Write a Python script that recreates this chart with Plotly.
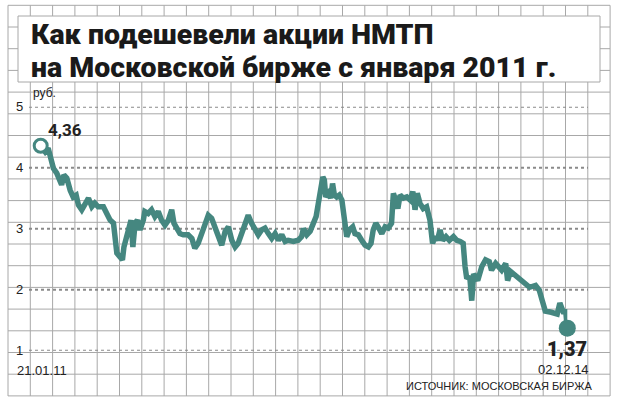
import pandas as pd
import plotly.graph_objects as go

# -- price of NMTP shares, days counted from 21.01.11
days = [0, 12, 20, 25, 34, 43, 50, 56, 62, 70, 79, 87, 95, 101, 110, 119, 128, 137, 145, 154,
        168, 177, 186, 195, 199, 204, 212, 219, 223, 230, 235, 242, 247, 253, 259, 266, 275, 279,
        288, 297, 306, 315, 324, 333, 342, 351, 357, 364, 373, 382, 395, 405, 413, 422, 431, 440,
        449, 458, 467, 476, 485, 494, 503, 512, 521, 529, 539, 547, 556, 565, 574, 583, 592, 601,
        610, 619, 628, 637, 646, 655, 663, 677, 690, 699, 704, 713, 722, 730, 738, 744, 750, 756,
        760, 764, 771, 777, 782, 787, 793, 800, 807, 813, 820, 827, 836, 842, 851, 860, 869, 878,
        885, 891, 898, 906, 914, 923, 931, 940, 945, 951, 957, 963, 972, 981, 990, 997, 1003, 1009,
        1016, 1025, 1034, 1043, 1050, 1057, 1063, 1070, 1077, 1086, 1095, 1106, 1115, 1124, 1132,
        1137, 1141, 1150, 1155, 1160, 1171, 1182, 1192, 1202, 1208, 1219, 1235, 1246, 1251, 1259,
        1267, 1278, 1294, 1310, 1326, 1336, 1344, 1352, 1368, 1384, 1391, 1400, 1407, 1411]
price = [4.36, 4.26, 4.32, 4.18, 3.99, 3.91, 3.80, 3.72, 3.88, 3.83, 3.63, 3.52, 3.55, 3.39, 3.31,
         3.42, 3.50, 3.36, 3.42, 3.36, 3.36, 3.25, 3.14, 3.09, 2.81, 2.60, 2.54, 2.49, 2.70, 2.87,
         3.03, 3.14, 2.70, 3.09, 3.14, 2.98, 3.14, 3.28, 3.25, 3.31, 3.20, 3.28, 3.14, 3.06, 3.14,
         3.31, 3.09, 3.01, 2.92, 2.90, 2.90, 2.84, 2.68, 2.76, 2.90, 3.09, 3.22, 3.17, 3.03, 2.92,
         2.73, 2.95, 3.03, 2.81, 2.70, 2.76, 2.92, 3.03, 3.22, 3.09, 3.01, 2.90, 2.98, 3.01, 2.92,
         2.84, 2.92, 2.81, 2.90, 2.79, 2.81, 2.79, 2.81, 2.87, 3.00, 2.90, 2.96, 3.06, 3.20, 3.42,
         3.69, 3.85, 3.80, 3.52, 3.58, 3.50, 3.74, 3.55, 3.52, 3.55, 3.47, 3.25, 2.87, 2.98, 3.03,
         2.92, 2.90, 2.81, 2.73, 2.70, 2.76, 2.98, 3.09, 3.01, 2.92, 3.03, 3.01, 3.09, 3.58, 3.47,
         3.33, 3.55, 3.50, 3.52, 3.47, 3.61, 3.31, 3.58, 3.42, 3.33, 3.36, 3.14, 2.76, 2.87, 2.81,
         2.98, 2.81, 2.87, 2.81, 2.87, 2.81, 2.79, 2.76, 2.38, 2.21, 2.19, 1.82, 2.26, 2.15, 2.38,
         2.49, 2.46, 2.32, 2.43, 2.32, 2.43, 2.15, 2.30, 2.26, 2.18, 2.10, 2.04, 2.07, 1.99, 1.82,
         1.65, 1.63, 1.60, 1.78, 1.64, 1.64, 1.37]

y_ticks = [1, 2, 3, 4, 5]
date_labels = ["21.01.11", "02.12.14"]
first_label = "4,36"
last_label = "1,37"

W, H = 621, 407
TEAL = "#458780"
NARROW = "Liberation Sans Narrow, Arial Narrow, sans-serif"


def px(x):
    return x / W


def py(y):
    return 1 - y / H


fig = go.Figure()

# -- paper grid in the background
shapes = []
for k in range(28):
    x = 8 + 22.3 * k
    shapes.append(dict(type="line", xref="paper", yref="paper", x0=px(x), x1=px(x),
                       y0=py(5.3), y1=py(396), line=dict(color="#a8a8a8", width=1), layer="below"))
for k in range(19):
    y = 5.3 + 21.7 * k
    shapes.append(dict(type="line", xref="paper", yref="paper", x0=px(8), x1=px(610),
                       y0=py(y), y1=py(y), line=dict(color="#a8a8a8", width=1), layer="below"))

# -- white box under the title
shapes.append(dict(type="rect", xref="paper", yref="paper", x0=px(18), x1=px(600),
                   y0=py(82), y1=py(16), fillcolor="white",
                   line=dict(color="#a8a8a8", width=1), layer="below"))

# -- dotted value lines
for v in y_ticks:
    shapes.append(dict(type="line", xref="paper", yref="y", x0=px(29), x1=px(588),
                       y0=v, y1=v, line=dict(color="#8a8a8a", width=2, dash="dot"), layer="below"))

fig.add_trace(go.Scatter(x=days, y=price, mode="lines",
                         line=dict(color=TEAL, width=5.5), hoverinfo="skip"))
fig.add_trace(go.Scatter(x=[days[0]], y=[price[0]], mode="markers", cliponaxis=False,
                         marker=dict(size=13, color="white", line=dict(color=TEAL, width=3))))
fig.add_trace(go.Scatter(x=[days[-1]], y=[price[-1]], mode="markers", cliponaxis=False,
                         marker=dict(size=17, color=TEAL)))

ann = []
for v in y_ticks:
    ann.append(dict(x=px(25), y=v, xref="paper", yref="y", text=str(v), showarrow=False,
                    xanchor="right", yanchor="middle", font=dict(family=NARROW, size=13, color="#222")))
ann.append(dict(x=px(31), y=py(92.5), xref="paper", yref="paper", text="руб.", showarrow=False,
                xanchor="left", yanchor="middle", font=dict(family=NARROW, size=12, color="#222")))
ann.append(dict(x=px(15), y=py(370), xref="paper", yref="paper", text=date_labels[0], showarrow=False,
                xanchor="left", yanchor="middle", font=dict(family=NARROW, size=13, color="#222")))
ann.append(dict(x=px(591), y=py(369), xref="paper", yref="paper", text=date_labels[1], showarrow=False,
                xanchor="right", yanchor="middle", font=dict(family=NARROW, size=13, color="#222")))
ann.append(dict(x=px(594), y=py(386), xref="paper", yref="paper", text="ИСТОЧНИК: МОСКОВСКАЯ БИРЖА",
                showarrow=False, xanchor="right", yanchor="middle",
                font=dict(family=NARROW, size=11, color="#222")))
ann.append(dict(x=px(46), y=py(130), xref="paper", yref="paper", text=first_label, showarrow=False,
                xanchor="left", yanchor="middle", font=dict(family="Roboto", size=17, color="#222", weight=700)))
ann.append(dict(x=px(589), y=py(349), xref="paper", yref="paper", text=last_label, showarrow=False,
                xanchor="right", yanchor="middle", font=dict(family="Roboto", size=20, color="#222", weight=900)))

# -- title, two lines
ann.append(dict(x=px(29), y=py(34), xref="paper", yref="paper", text="Как подешевели акции НМТП",
                showarrow=False, xanchor="left", yanchor="middle",
                font=dict(family="Roboto", size=28.5, color="#1a1a1a", weight=900)))
ann.append(dict(x=px(29), y=py(67.5), xref="paper", yref="paper", text="на Московской бирже с января 2011 г.",
                showarrow=False, xanchor="left", yanchor="middle",
                font=dict(family="Roboto", size=28.5, color="#1a1a1a", weight=900)))

fig.update_layout(width=W, height=H, margin=dict(l=0, r=0, t=0, b=0),
                  paper_bgcolor="white", plot_bgcolor="rgba(0,0,0,0)",
                  showlegend=False, shapes=shapes, annotations=ann)
fig.update_xaxes(range=[0, 1411], domain=[px(40.7), px(567.3)], visible=False)
fig.update_yaxes(range=[1, 5], domain=[py(350.7), py(106.7)], visible=False)

# -- drop the default page margin so the figure sits at the window's corner
fig.write_html("out.html", config={"displayModeBar": False},
               post_script="document.body.style.margin='0';")
